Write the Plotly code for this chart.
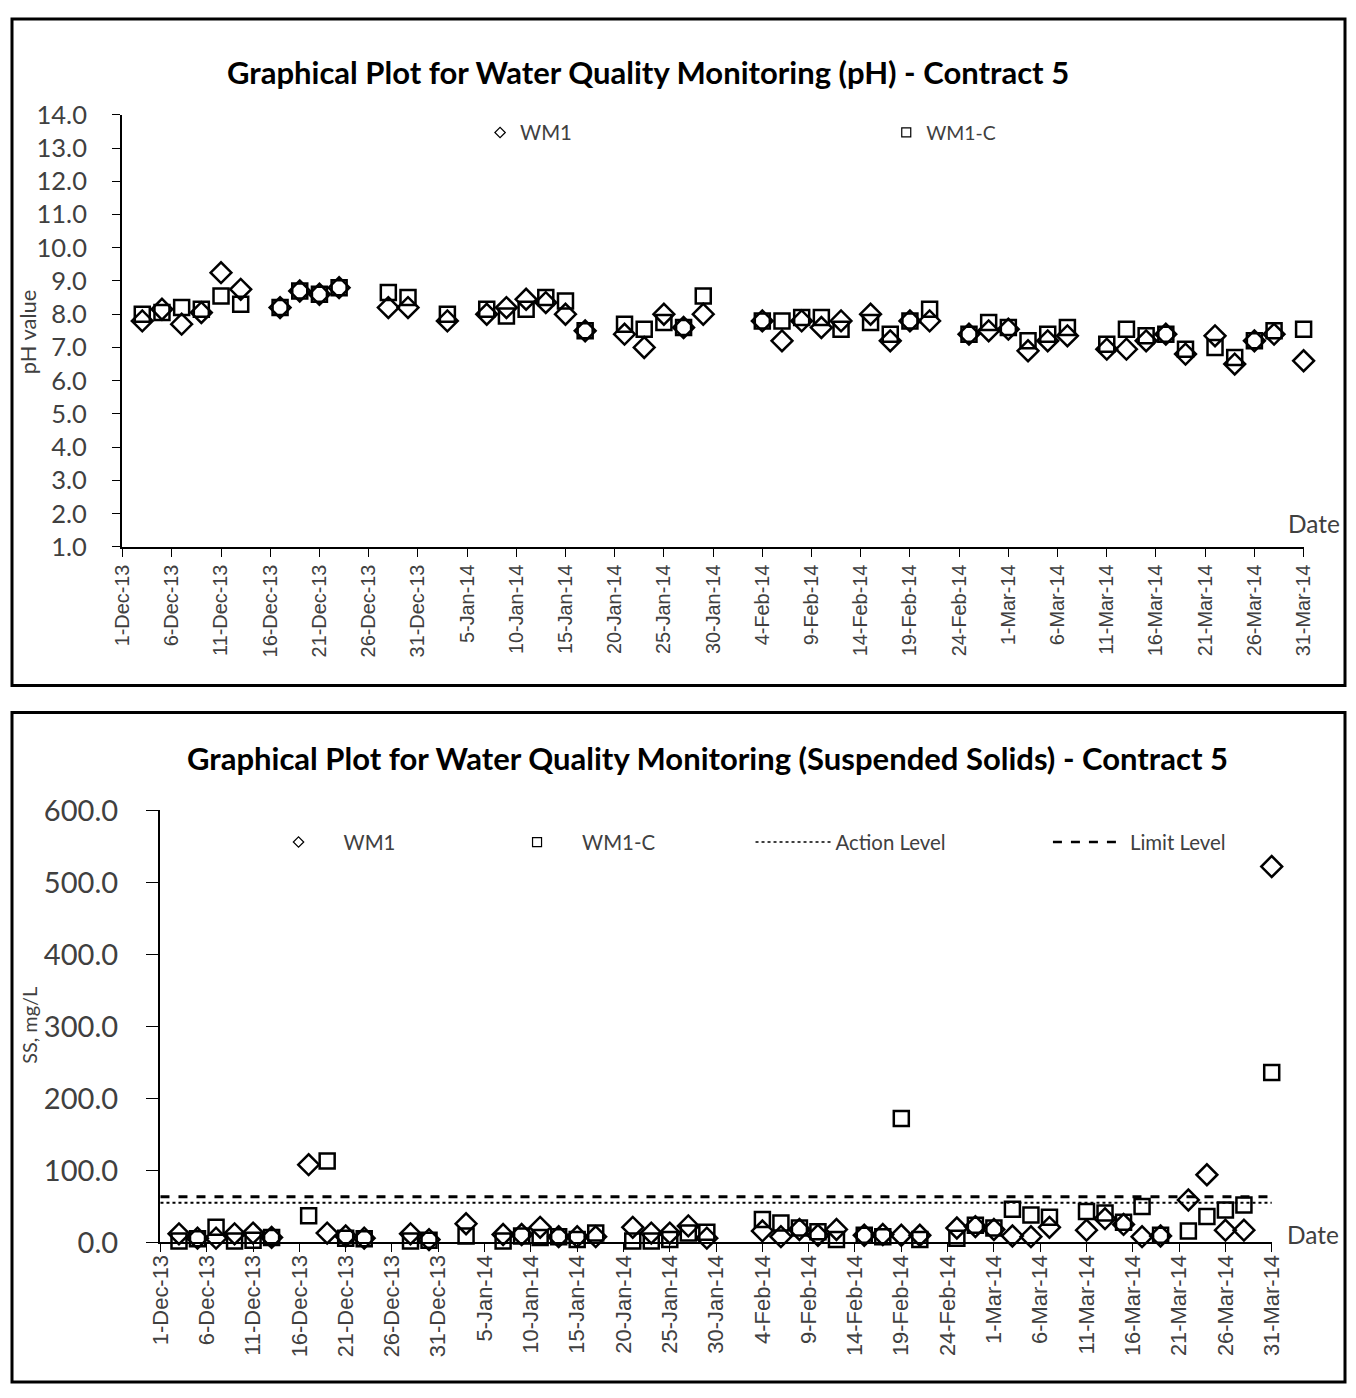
import plotly.graph_objects as go

# ---------------- data ----------------
dates = ["2013-12-03", "2013-12-05", "2013-12-07", "2013-12-09", "2013-12-11", "2013-12-13",
         "2013-12-17", "2013-12-19", "2013-12-21", "2013-12-23", "2013-12-28", "2013-12-30",
         "2014-01-03", "2014-01-07", "2014-01-09", "2014-01-11", "2014-01-13", "2014-01-15",
         "2014-01-17", "2014-01-21", "2014-01-23", "2014-01-25", "2014-01-27", "2014-01-29",
         "2014-02-04", "2014-02-06", "2014-02-08", "2014-02-10", "2014-02-12", "2014-02-15",
         "2014-02-17", "2014-02-19", "2014-02-21", "2014-02-25", "2014-02-27",
         "2014-03-01", "2014-03-03", "2014-03-05", "2014-03-07", "2014-03-11", "2014-03-13",
         "2014-03-15", "2014-03-17", "2014-03-19", "2014-03-22", "2014-03-24", "2014-03-26",
         "2014-03-28", "2014-03-31"]

ph_wm1 = [7.8, 8.15, 7.7, 8.05, 9.25, 8.75, 8.2, 8.7, 8.6, 8.8, 8.2, 8.2,
          7.8, 8.0, 8.2, 8.45, 8.35, 8.0, 7.5, 7.4, 7.0, 8.0, 7.6, 8.0,
          7.8, 7.2, 7.8, 7.6, 7.8, 8.0, 7.2, 7.8, 7.8, 7.4, 7.5,
          7.55, 6.9, 7.2, 7.35, 6.95, 6.95, 7.2, 7.4, 6.8, 7.35, 6.5, 7.2, 7.4, 6.6]
ph_wm1c = [8.0, 8.05, 8.2, 8.15, 8.55, 8.3, 8.2, 8.7, 8.6, 8.8, 8.65, 8.5,
           8.0, 8.15, 7.95, 8.15, 8.5, 8.4, 7.5, 7.7, 7.55, 7.75, 7.6, 8.55,
           7.8, 7.8, 7.9, 7.9, 7.55, 7.75, 7.4, 7.8, 8.15, 7.4, 7.75,
           7.6, 7.2, 7.4, 7.6, 7.1, 7.55, 7.35, 7.4, 6.95, 7.0, 6.7, 7.2, 7.5, 7.55]

ss_wm1 = [12, 6, 6, 12, 13, 7, 108, 13, 9, 6, 12, 4,
          26, 11, 11, 21, 8, 8, 8, 21, 13, 13, 23, 6,
          16, 8, 18, 10, 18, 10, 11, 10, 10, 20, 22,
          18, 9, 8, 21, 17, 33, 25, 8, 9, 59, 94, 17, 17, 522]
ss_wm1c = [2, 5, 21, 2, 3, 7, 37, 113, 6, 5, 2, 3,
           9, 2, 9, 7, 8, 4, 13, 2, 2, 4, 13, 14,
           32, 27, 20, 15, 4, 10, 8, 172, 4, 6, 24,
           20, 46, 38, 35, 43, 41, 28, 50, 10, 16, 36, 45, 52, 236]

level_dates = ["2013-12-01", "2014-03-31"]
action_level = [55.0, 55.0]
limit_level = [63.5, 63.5]

# ---------------- layout helpers ----------------
W, H = 1356, 1398
# the captured picture shows the page slightly reduced and centred;
# place items by their intended on-screen pixel positions
AX, BX, AY, BY = 0.985, 10.0, 0.977, 17.0
def px(s):
    return max(0.0, min(1.0, ((s - BX) / AX) / W))
def py(s):
    return max(0.0, min(1.0, 1 - ((s - BY) / AY) / H))
K = 1.0 / 0.98

FONT = "Lato"
TXT = "#404040"
DAY = 86400000

def xaxis_common(fs):
    return dict(
        type="date", range=["2013-11-30 22:00", "2014-03-31 02:00"],
        tick0="2013-12-01", dtick=5 * DAY, tickformat="%-d-%b-%y", tickangle=-90,
        ticks="outside", ticklen=8, tickcolor="black", tickwidth=1.2,
        showline=True, linecolor="black", linewidth=1.5, showgrid=False, zeroline=False,
        tickfont=dict(family="Liberation Sans", size=fs * K, color=TXT),
    )

yaxis_common = dict(
    ticks="outside", ticklen=8, tickcolor="black", tickwidth=1.2,
    showline=True, linecolor="black", linewidth=1.5, showgrid=False, zeroline=False,
    tickformat=".1f",
)

fig = go.Figure()

dia = dict(symbol="diamond-open", size=16, color="black", line=dict(color="black", width=2.5))
sqr = dict(symbol="square-open", size=15, color="black", line=dict(color="black", width=2.5))

# top chart
fig.add_trace(go.Scatter(x=dates, y=ph_wm1c, mode="markers", marker=sqr, name="WM1-C",
                         showlegend=False, cliponaxis=False, xaxis="x", yaxis="y"))
fig.add_trace(go.Scatter(x=dates, y=ph_wm1, mode="markers", marker=dia, name="WM1",
                         showlegend=False, cliponaxis=False, xaxis="x", yaxis="y"))
# bottom chart
fig.add_trace(go.Scatter(x=level_dates, y=action_level, mode="lines", name="Action Level",
                         line=dict(color="black", width=2, dash="dot"),
                         showlegend=False, xaxis="x2", yaxis="y2"))
fig.add_trace(go.Scatter(x=level_dates, y=limit_level, mode="lines", name="Limit Level",
                         line=dict(color="black", width=3, dash="dash"),
                         showlegend=False, xaxis="x2", yaxis="y2"))
fig.add_trace(go.Scatter(x=dates, y=ss_wm1c, mode="markers", marker=sqr, name="WM1-C",
                         showlegend=False, cliponaxis=False, xaxis="x2", yaxis="y2"))
fig.add_trace(go.Scatter(x=dates, y=ss_wm1, mode="markers", marker=dia, name="WM1",
                         showlegend=False, cliponaxis=False, xaxis="x2", yaxis="y2"))

# legend entries
ldia = dict(symbol="diamond-open", size=8, color="black", line=dict(color="black", width=1.2))
lsqr = dict(symbol="square-open", size=9, color="black", line=dict(color="black", width=1.2))
fig.add_trace(go.Scatter(x=[None], y=[None], mode="markers", marker=ldia, name="WM1",
                         legend="legend", xaxis="x", yaxis="y"))
fig.add_trace(go.Scatter(x=[None], y=[None], mode="markers", marker=lsqr, name="WM1-C",
                         legend="legend2", xaxis="x", yaxis="y"))
fig.add_trace(go.Scatter(x=[None], y=[None], mode="markers", marker=ldia, name="WM1",
                         legend="legend3", xaxis="x2", yaxis="y2"))
fig.add_trace(go.Scatter(x=[None], y=[None], mode="markers", marker=lsqr, name="WM1-C",
                         legend="legend4", xaxis="x2", yaxis="y2"))
fig.add_trace(go.Scatter(x=[None], y=[None], mode="lines", name="Action Level",
                         line=dict(color="black", width=1.5, dash="dot"),
                         legend="legend5", xaxis="x2", yaxis="y2"))
fig.add_trace(go.Scatter(x=[None], y=[None], mode="lines", name="Limit Level",
                         line=dict(color="black", width=2.5, dash="dash"),
                         legend="legend6", xaxis="x2", yaxis="y2"))

def leg(x, y, iw=30, size=20):
    return dict(x=px(x), y=py(y), xanchor="left", yanchor="middle", orientation="h",
                bgcolor="rgba(0,0,0,0)", itemwidth=iw, itemclick=False,
                font=dict(family=FONT, size=size * K, color=TXT))

def ann(text, x, y, size, color=TXT, angle=0):
    return dict(text=text, x=px(x), y=py(y), xref="paper", yref="paper", showarrow=False,
                xanchor="center", yanchor="middle", textangle=angle,
                font=dict(family=FONT, size=size * K, color=color))

fig.update_layout(
    width=W, height=H,
    margin=dict(l=0, r=0, t=0, b=0),
    paper_bgcolor="white", plot_bgcolor="white",
    xaxis=dict(xaxis_common(19.5), domain=[px(120), px(1305)], anchor="y"),
    yaxis=dict(yaxis_common, domain=[py(546), py(113)], range=[1, 14], dtick=1,
               ticklabelstandoff=20,
               tickfont=dict(family=FONT, size=25 * K, color=TXT), anchor="x"),
    xaxis2=dict(xaxis_common(21.5), domain=[px(158), px(1273)], anchor="y2",
                ticklabelstandoff=-6),
    yaxis2=dict(yaxis_common, domain=[py(1243), py(810)], range=[0, 600], dtick=100,
                ticklen=12, ticklabelstandoff=22,
                tickfont=dict(family=FONT, size=28.5 * K, color=TXT), anchor="x2"),
    legend=leg(479, 131),
    legend2=leg(886, 131, size=19),
    legend3=leg(252, 842, iw=80),
    legend4=leg(491, 842, iw=80),
    legend5=leg(750, 842, iw=75),
    legend6=leg(1048, 842, iw=72),
    shapes=[
        dict(type="rect", xref="paper", yref="paper", x0=px(3), x1=px(1353), y0=py(685), y1=py(3),
             line=dict(color="black", width=3)),
        dict(type="rect", xref="paper", yref="paper", x0=px(3), x1=px(1353), y0=py(1396), y1=py(712),
             line=dict(color="black", width=3)),
    ],
    annotations=[
        ann("<b>Graphical Plot for Water Quality Monitoring (pH) - Contract 5</b>", 647, 70, 30.4),
        ann("<b>Graphical Plot for Water Quality Monitoring (Suspended Solids) - Contract 5</b>", 707, 758, 30.4),
        ann("pH value", 25, 330, 21.5, angle=-90),
        ann("SS, mg/L", 27, 1025, 19.5, angle=-90),
        ann("Date", 1315, 523, 24),
        ann("Date", 1314, 1235, 24),
    ],
)
# title colour
for a in fig.layout.annotations[:2]:
    a.font.color = "black"

fig.write_html(
    "out.html",
    config={"displayModeBar": False},
    post_script="document.body.style.margin='0';document.body.style.overflow='hidden';"
                "document.documentElement.style.overflow='hidden';",
)
